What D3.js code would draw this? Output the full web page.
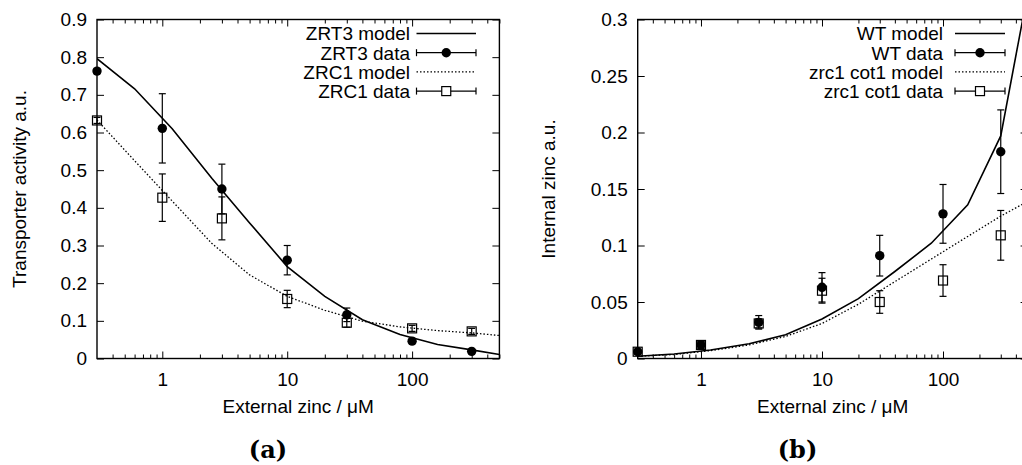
<!DOCTYPE html><html><head><meta charset="UTF-8"><script src="https://d3js.org/d3.v7.min.js"></script><style>
body { margin: 0; background: #fff; }
svg text { font-family: "Liberation Sans", Arial, sans-serif; fill: #000; }
.caption { font-family: "DejaVu Serif", serif; font-weight: bold; }
</style></head><body><div id="chart"></div><script>
// zinc concentrations where data were measured, and where the model was evaluated
const dataX = [0.3, 1, 3, 10, 30, 100, 300];
const modelX = [0.3, 0.6, 1.2, 2.5, 5, 10, 20, 40, 80, 160, 300, 500];
const xTicks = [1, 10, 100];
const xMinor = [0.4, 0.5, 0.6, 0.7, 0.8, 0.9, 2, 3, 4, 5, 6, 7, 8, 9, 20, 30, 40, 50, 60, 70, 80, 90, 200, 300, 400, 500];

// panel (a)
const zrt3Model = [0.796, 0.716, 0.61, 0.478, 0.36, 0.244, 0.165, 0.103, 0.0635, 0.037, 0.023, 0.0106];
const zrt3Data = [0.763, 0.611, 0.450, 0.261, 0.116, 0.046, 0.019];
const zrt3Err = [0.006, 0.092, 0.066, 0.039, 0.018, 0.005, 0.004];
const zrc1Model = [0.633, 0.525, 0.418, 0.305, 0.222, 0.165, 0.128, 0.099, 0.084, 0.074, 0.068, 0.061];
const zrc1Data = [0.632, 0.427, 0.372, 0.158, 0.095, 0.080, 0.072];
const zrc1Err = [0.008, 0.063, 0.057, 0.023, 0.012, 0.008, 0.008];
const aYTicks = [0, 0.1, 0.2, 0.3, 0.4, 0.5, 0.6, 0.7, 0.8, 0.9];

// panel (b)
const wtModel = [0.002, 0.004, 0.0075, 0.013, 0.021, 0.035, 0.053, 0.077, 0.102, 0.136, 0.197, 0.323];
const wtData = [0.006, 0.012, 0.032, 0.063, 0.091, 0.128, 0.183];
const wtErr = [0.002, 0.003, 0.006, 0.013, 0.018, 0.026, 0.037];
const dblModel = [0.002, 0.0035, 0.007, 0.012, 0.0195, 0.031, 0.048, 0.068, 0.088, 0.108, 0.126, 0.139];
const dblData = [0.006, 0.012, 0.031, 0.060, 0.050, 0.069, 0.109];
const dblErr = [0.002, 0.003, 0.004, 0.011, 0.010, 0.014, 0.022];
const bYTicks = [0, 0.05, 0.1, 0.15, 0.2, 0.25, 0.3];

const svg = d3.select('#chart').append('svg')
    .attr('width', 1022)
    .attr('height', 465);

function panel(p) {
    const x = d3.scaleLog().domain([0.3, 500]).range([p.left, p.right]);
    const y = d3.scaleLinear().domain([0, p.yMax]).range([358.5, 19.5]);
    const g = svg.append('g');

    g.append('clipPath').attr('id', p.id)
        .append('rect')
        .attr('x', p.left).attr('y', 19.5)
        .attr('width', p.right - p.left).attr('height', 339);

    // axes, gnuplot style: ticks pointing inwards, mirrored
    const fmt = d => String(d);
    g.append('g').attr('transform', `translate(0,358.5)`)
        .call(d3.axisBottom(x).tickValues(xTicks).tickFormat(fmt).tickSize(-7).tickPadding(14));
    g.append('g').attr('transform', `translate(0,358.5)`)
        .call(d3.axisBottom(x).tickValues(xMinor).tickFormat('').tickSize(-4));
    g.append('g').attr('transform', `translate(0,19.5)`)
        .call(d3.axisTop(x).tickValues(xTicks).tickFormat('').tickSize(-7));
    g.append('g').attr('transform', `translate(0,19.5)`)
        .call(d3.axisTop(x).tickValues(xMinor).tickFormat('').tickSize(-4));
    g.append('g').attr('transform', `translate(${p.left},0)`)
        .call(d3.axisLeft(y).tickValues(p.yTicks).tickFormat(fmt).tickSize(-7).tickPadding(10));
    g.append('g').attr('transform', `translate(${p.right},0)`)
        .call(d3.axisRight(y).tickValues(p.yTicks).tickFormat('').tickSize(-7));
    g.selectAll('.domain').remove();
    g.selectAll('.tick line').attr('stroke', '#000').attr('stroke-width', 1);
    g.selectAll('.tick text').attr('font-size', 19).attr('font-family', '"Liberation Sans", Arial, sans-serif');

    g.append('rect')
        .attr('x', p.left).attr('y', 19.5)
        .attr('width', p.right - p.left).attr('height', 339)
        .attr('fill', 'none').attr('stroke', '#000').attr('stroke-width', 1.4);

    g.append('text')
        .attr('x', (p.left + p.right) / 2).attr('y', 413)
        .attr('text-anchor', 'middle').attr('font-size', 19)
        .text('External zinc / \u03bcM');
    g.append('text')
        .attr('transform', `translate(${p.yLabelX},189) rotate(-90)`)
        .attr('text-anchor', 'middle').attr('font-size', 19)
        .text(p.yLabel);
    svg.append('text').attr('class', 'caption')
        .attr('x', p.capX).attr('y', 458)
        .attr('text-anchor', 'middle').attr('font-size', 24)
        .text(p.caption);

    // model curves are clipped to the frame, data points are not
    const curves = g.append('g').attr('clip-path', `url(#${p.id})`);
    const plot = g.append('g');
    const line = d3.line().x((d, i) => x(modelX[i])).y(d => y(d));

    p.series.forEach(s => {
        curves.append('path')
            .attr('d', line(s.model))
            .attr('fill', 'none').attr('stroke', '#000')
            .attr('stroke-width', s.dotted ? 1.3 : 1.6)
            .attr('stroke-dasharray', s.dotted ? '1.5,2' : null);
    });

    p.series.forEach(s => {
        const pts = dataX.map((v, i) => ({x: v, y: s.data[i], e: s.err[i]}));
        const bars = plot.append('g').attr('stroke', '#000').attr('stroke-width', 1.2);
        pts.forEach(d => {
            const cx = x(d.x), y0 = y(d.y - d.e), y1 = y(d.y + d.e);
            bars.append('line').attr('x1', cx).attr('x2', cx).attr('y1', y0).attr('y2', y1);
            bars.append('line').attr('x1', cx - 3.5).attr('x2', cx + 3.5).attr('y1', y0).attr('y2', y0);
            bars.append('line').attr('x1', cx - 3.5).attr('x2', cx + 3.5).attr('y1', y1).attr('y2', y1);
        });
        if (s.open) {
            plot.selectAll(null).data(pts).enter().append('rect')
                .attr('x', d => x(d.x) - 4.5).attr('y', d => y(d.y) - 4.5)
                .attr('width', 9).attr('height', 9)
                .attr('fill', 'none').attr('stroke', '#000').attr('stroke-width', 1.2);
        } else {
            plot.selectAll(null).data(pts).enter().append('circle')
                .attr('cx', d => x(d.x)).attr('cy', d => y(d.y)).attr('r', 4.7)
                .attr('fill', '#000');
        }
    });

    // key
    const key = g.append('g');
    const rows = [];
    p.series.forEach(s => {
        rows.push({label: s.name + ' model', kind: s.dotted ? 'dotted' : 'solid'});
        rows.push({label: s.name + ' data', kind: s.open ? 'square' : 'circle'});
    });
    rows.forEach((r, i) => {
        const cy = 33.5 + i * 19.2;
        key.append('text')
            .attr('x', p.keyText).attr('y', cy).attr('dy', '0.36em')
            .attr('text-anchor', 'end').attr('font-size', 19)
            .text(r.label);
        const l0 = p.keyLine[0], l1 = p.keyLine[1], mid = (l0 + l1) / 2;
        key.append('line').attr('x1', l0).attr('x2', l1).attr('y1', cy).attr('y2', cy)
            .attr('stroke', '#000')
            .attr('stroke-width', r.kind === 'dotted' ? 1.3 : (r.kind === 'solid' ? 1.6 : 1.2))
            .attr('stroke-dasharray', r.kind === 'dotted' ? '1.5,2' : null);
        if (r.kind === 'circle' || r.kind === 'square') {
            [l0, l1].forEach(xx => key.append('line')
                .attr('x1', xx).attr('x2', xx).attr('y1', cy - 3.5).attr('y2', cy + 3.5)
                .attr('stroke', '#000').attr('stroke-width', 1.2));
        }
        if (r.kind === 'circle') {
            key.append('circle').attr('cx', mid).attr('cy', cy).attr('r', 4.7).attr('fill', '#000');
        } else if (r.kind === 'square') {
            key.append('rect').attr('x', mid - 4.5).attr('y', cy - 4.5).attr('width', 9).attr('height', 9)
                .attr('fill', '#fff').attr('stroke', '#000').attr('stroke-width', 1.2);
        }
    });
}

panel({
    id: 'clipA', left: 97, right: 499.4, yMax: 0.9, yTicks: aYTicks,
    yLabel: 'Transporter activity a.u.', yLabelX: 26, caption: '(a)', capX: 268,
    keyText: 410, keyLine: [416.5, 476],
    series: [
        {name: 'ZRT3', model: zrt3Model, data: zrt3Data, err: zrt3Err, dotted: false, open: false},
        {name: 'ZRC1', model: zrc1Model, data: zrc1Data, err: zrc1Err, dotted: true, open: true}
    ]
});

panel({
    id: 'clipB', left: 637.7, right: 1027.6, yMax: 0.3, yTicks: bYTicks,
    yLabel: 'Internal zinc a.u.', yLabelX: 555, caption: '(b)', capX: 797.5,
    keyText: 943, keyLine: [955, 1005],
    series: [
        {name: 'WT', model: wtModel, data: wtData, err: wtErr, dotted: false, open: false},
        {name: 'zrc1 cot1', model: dblModel, data: dblData, err: dblErr, dotted: true, open: true}
    ]
});
</script></body></html>
